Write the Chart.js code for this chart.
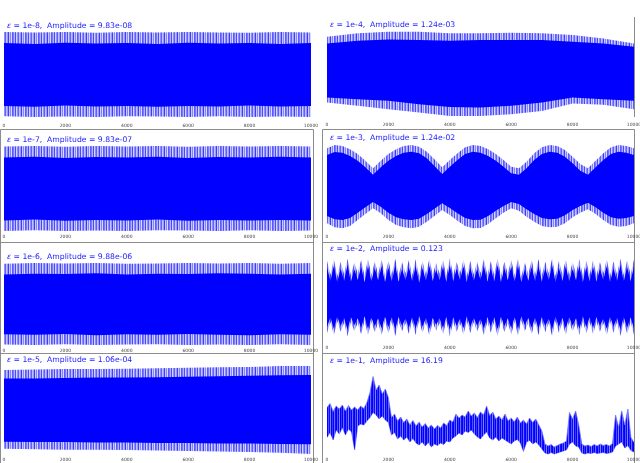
<!DOCTYPE html>
<html>
<head>
<meta charset="utf-8">
<script src="https://cdn.jsdelivr.net/npm/chart.js@4.4.1/dist/chart.umd.min.js"></script>
<style>
  body { margin: 0; width: 640px; height: 463px; overflow: hidden; position: relative; background: #fff; }
  .panel { position: absolute; }
</style>
</head>
<body>
<div class="panel" id="w0"><canvas id="c0"></canvas></div>
<div class="panel" id="w1"><canvas id="c1"></canvas></div>
<div class="panel" id="w2"><canvas id="c2"></canvas></div>
<div class="panel" id="w3"><canvas id="c3"></canvas></div>
<div class="panel" id="w4"><canvas id="c4"></canvas></div>
<div class="panel" id="w5"><canvas id="c5"></canvas></div>
<div class="panel" id="w6"><canvas id="c6"></canvas></div>
<div class="panel" id="w7"><canvas id="c7"></canvas></div>
<script>
// Labels of the eight runs
const epsilons = ['1e-8', '1e-7', '1e-6', '1e-5', '1e-4', '1e-3', '1e-2', '1e-1'];
const amplitudes = ['9.83e-08', '9.83e-07', '9.88e-06', '1.06e-04', '1.24e-03', '1.24e-02', '0.123', '16.19'];
const xTicks = [0, 2000, 4000, 6000, 8000, 10000];

// Envelopes of the oscillation (normalised), samples evenly spread over 0..10000
// eps = 1e-8
const e8OuterTop = [1.00, 0.99, 1.00, 0.98, 1.00, 0.99, 1.00, 0.99, 0.98, 1.00, 0.99];
const e8InnerTop = [0.74, 0.72, 0.75, 0.73, 0.74, 0.72, 0.75, 0.73, 0.74, 0.72, 0.74];
const e8InnerBot = [-0.74, -0.76, -0.73, -0.75, -0.74, -0.76, -0.74, -0.75, -0.73, -0.75, -0.74];
const e8OuterBot = [-0.98, -1.00, -0.99, -1.00, -0.98, -0.99, -1.00, -0.98, -1.00, -0.99, -1.00];
// eps = 1e-7
const e7OuterTop = [0.99, 1.00, 0.98, 1.00, 0.99, 1.00, 0.98, 1.00, 0.99, 1.00, 0.99];
const e7InnerTop = [0.73, 0.75, 0.72, 0.74, 0.73, 0.75, 0.72, 0.74, 0.73, 0.75, 0.73];
const e7InnerBot = [-0.75, -0.73, -0.76, -0.74, -0.75, -0.73, -0.76, -0.74, -0.75, -0.74, -0.75];
const e7OuterBot = [-1.00, -0.98, -1.00, -0.99, -1.00, -0.98, -0.99, -1.00, -0.98, -1.00, -0.99];
// eps = 1e-6
const e6OuterTop = [0.98, 1.00, 0.99, 1.00, 0.98, 0.99, 1.00, 0.99, 1.00, 0.98, 1.00];
const e6InnerTop = [0.72, 0.74, 0.73, 0.75, 0.72, 0.74, 0.73, 0.75, 0.74, 0.72, 0.74];
const e6InnerBot = [-0.74, -0.75, -0.73, -0.76, -0.74, -0.75, -0.73, -0.75, -0.76, -0.74, -0.75];
const e6OuterBot = [-0.99, -1.00, -0.98, -1.00, -0.99, -0.98, -1.00, -0.99, -1.00, -0.98, -1.00];
// eps = 1e-5
const e5OuterTop = [0.91, 0.92, 0.93, 0.93, 0.94, 0.95, 0.96, 0.97, 0.98, 1.00, 1.01];
const e5InnerTop = [0.72, 0.72, 0.73, 0.74, 0.74, 0.75, 0.76, 0.77, 0.78, 0.79, 0.80];
const e5InnerBot = [-0.70, -0.71, -0.71, -0.72, -0.72, -0.73, -0.73, -0.74, -0.74, -0.75, -0.76];
const e5OuterBot = [-0.86, -0.87, -0.88, -0.88, -0.89, -0.90, -0.91, -0.92, -0.93, -0.95, -0.98];
// eps = 1e-4 (units of 1e-3)
const e4OuterTop = [1.10, 1.20, 1.25, 1.25, 1.20, 1.20, 1.22, 1.20, 1.15, 1.05, 0.90];
const e4InnerTop = [0.90, 0.98, 1.02, 1.00, 0.98, 1.00, 1.00, 1.00, 0.95, 0.90, 0.80];
const e4InnerBot = [-0.70, -0.75, -0.80, -0.90, -0.98, -1.00, -0.95, -0.85, -0.70, -0.75, -0.80];
const e4OuterBot = [-0.85, -0.95, -1.05, -1.15, -1.25, -1.25, -1.20, -1.10, -0.88, -0.92, -1.05];
// eps = 1e-3 (units of 1e-2)
const e3OuterTop = [1.15, 1.25, 1.22, 1.12, 0.98, 0.78, 0.55, 0.78, 0.98, 1.12, 1.22, 1.25, 1.20, 1.05, 0.82, 0.58, 0.80, 1.00, 1.18, 1.25, 1.22, 1.12, 0.98, 0.80, 0.60, 0.55, 0.75, 1.00, 1.18, 1.25, 1.22, 1.10, 0.90, 0.68, 0.55, 0.78, 1.00, 1.18, 1.25, 1.22, 1.15];
const e3InnerTop = [0.95, 1.04, 1.02, 0.92, 0.78, 0.58, 0.36, 0.58, 0.78, 0.92, 1.02, 1.05, 1.00, 0.85, 0.62, 0.38, 0.60, 0.80, 0.98, 1.05, 1.02, 0.92, 0.78, 0.60, 0.40, 0.36, 0.55, 0.80, 0.98, 1.05, 1.02, 0.90, 0.70, 0.48, 0.36, 0.58, 0.80, 0.98, 1.05, 1.02, 0.95];
const e3InnerBot = [-0.88, -0.98, -1.00, -0.94, -0.78, -0.62, -0.46, -0.60, -0.78, -0.92, -0.98, -1.00, -0.96, -0.82, -0.66, -0.50, -0.64, -0.80, -0.94, -1.00, -0.99, -0.88, -0.72, -0.58, -0.46, -0.52, -0.68, -0.82, -0.94, -0.98, -0.96, -0.86, -0.70, -0.58, -0.48, -0.62, -0.78, -0.92, -0.96, -0.94, -0.88];
const e3OuterBot = [-1.10, -1.22, -1.25, -1.18, -1.00, -0.82, -0.65, -0.80, -1.00, -1.15, -1.22, -1.25, -1.20, -1.05, -0.88, -0.70, -0.85, -1.02, -1.18, -1.25, -1.24, -1.12, -0.95, -0.78, -0.65, -0.72, -0.90, -1.05, -1.18, -1.22, -1.20, -1.10, -0.92, -0.78, -0.68, -0.82, -1.00, -1.15, -1.20, -1.18, -1.10];
// eps = 1e-2 (units of 0.1)
const e2OuterTop = [1.08, 0.66, 1.12, 0.62, 1.05, 0.68, 1.14, 0.64, 1.02, 0.70,
  1.10, 0.63, 1.13, 0.66, 1.04, 0.69, 1.11, 0.62, 1.07, 0.67,
  1.14, 0.64, 1.03, 0.70, 1.09, 0.65, 1.12, 0.61, 1.06, 0.68,
  1.13, 0.66, 1.01, 0.69, 1.10, 0.63, 1.15, 0.65, 1.04, 0.70,
  1.11, 0.62, 1.08, 0.67, 1.03, 0.71, 1.12, 0.64, 1.06, 0.66,
  1.14, 0.63, 1.05, 0.69, 1.10, 0.65, 1.13, 0.62, 1.02, 0.68,
  1.09, 0.66, 1.12, 0.64, 1.05, 0.70, 1.14, 0.63, 1.07, 0.67,
  1.11, 0.65, 1.03, 0.69, 1.13, 0.62, 1.08, 0.66, 1.10, 0.64,
  1.04, 0.70, 1.12, 0.63, 1.06, 0.67, 1.14, 0.65, 1.09, 0.66, 1.12];
const e2InnerTop = [0.88, 0.46, 0.93, 0.44, 0.84, 0.48, 0.95, 0.45, 0.82, 0.50,
  0.90, 0.43, 0.92, 0.47, 0.85, 0.49, 0.91, 0.44, 0.87, 0.46,
  0.94, 0.45, 0.83, 0.50, 0.89, 0.46, 0.92, 0.42, 0.86, 0.48,
  0.93, 0.47, 0.81, 0.49, 0.90, 0.44, 0.95, 0.46, 0.84, 0.50,
  0.91, 0.43, 0.88, 0.47, 0.83, 0.51, 0.92, 0.45, 0.86, 0.46,
  0.94, 0.44, 0.85, 0.49, 0.90, 0.46, 0.93, 0.43, 0.82, 0.48,
  0.89, 0.47, 0.92, 0.45, 0.85, 0.50, 0.94, 0.44, 0.87, 0.47,
  0.91, 0.46, 0.83, 0.49, 0.93, 0.43, 0.88, 0.46, 0.90, 0.45,
  0.84, 0.50, 0.92, 0.44, 0.86, 0.47, 0.94, 0.46, 0.89, 0.46, 0.92];
const e2InnerBot = [-0.92, -0.62, -0.97, -0.60, -0.88, -0.64, -0.99, -0.61, -0.86, -0.65,
  -0.94, -0.59, -0.96, -0.63, -0.89, -0.65, -0.95, -0.60, -0.91, -0.62,
  -0.98, -0.61, -0.87, -0.66, -0.93, -0.62, -0.96, -0.58, -0.90, -0.64,
  -0.97, -0.63, -0.85, -0.65, -0.94, -0.60, -1.00, -0.62, -0.88, -0.66,
  -0.95, -0.59, -0.92, -0.63, -0.87, -0.67, -0.96, -0.61, -0.90, -0.62,
  -0.98, -0.60, -0.89, -0.65, -0.94, -0.62, -0.97, -0.59, -0.86, -0.64,
  -0.93, -0.63, -0.96, -0.61, -0.89, -0.66, -0.98, -0.60, -0.91, -0.63,
  -0.95, -0.62, -0.87, -0.65, -0.97, -0.59, -0.92, -0.62, -0.94, -0.61,
  -0.88, -0.66, -0.96, -0.60, -0.90, -0.63, -0.98, -0.62, -0.93, -0.62, -0.96];
const e2OuterBot = [-1.10, -0.76, -1.16, -0.74, -1.05, -0.78, -1.19, -0.75, -1.03, -0.79,
  -1.13, -0.73, -1.15, -0.77, -1.06, -0.79, -1.14, -0.74, -1.09, -0.76,
  -1.18, -0.75, -1.04, -0.80, -1.11, -0.76, -1.15, -0.72, -1.08, -0.78,
  -1.16, -0.77, -1.02, -0.79, -1.13, -0.74, -1.20, -0.76, -1.05, -0.80,
  -1.14, -0.73, -1.10, -0.77, -1.04, -0.81, -1.15, -0.75, -1.08, -0.76,
  -1.18, -0.74, -1.06, -0.79, -1.13, -0.76, -1.16, -0.73, -1.03, -0.78,
  -1.11, -0.77, -1.15, -0.75, -1.06, -0.80, -1.18, -0.74, -1.09, -0.77,
  -1.14, -0.76, -1.04, -0.79, -1.16, -0.73, -1.10, -0.76, -1.13, -0.75,
  -1.05, -0.80, -1.15, -0.74, -1.08, -0.77, -1.18, -0.76, -1.11, -0.76, -1.15];
// eps = 1e-1: the trace wanders, upper/lower edge of the trace (101 samples)
const e1Upper = [9.5, 10.3, 8.7, 9.8, 9.2, 10.0, 8.8, 9.9, 9.0, 9.6,
  9.0, 9.8, 9.3, 10.5, 12.5, 15.7, 13.0, 14.0, 12.2, 13.2,
  11.5, 7.5, 8.2, 6.8, 7.6, 6.5, 7.2, 6.0, 6.9, 5.8,
  6.6, 5.6, 6.3, 5.4, 6.0, 5.2, 5.9, 5.4, 6.4, 5.9,
  7.0, 6.6, 8.2, 7.4, 8.0, 7.6, 8.8, 7.8, 8.4, 7.5,
  8.6, 8.0, 9.8, 7.9, 8.6, 7.2, 7.8, 7.0, 8.2, 6.8,
  7.4, 6.6, 7.6, 6.4, 7.0, 6.2, 7.4, 6.5, 7.2, 6.0,
  4.8, 2.2, 1.8, 2.1, 1.6, 1.9, 2.2, 2.4, 2.8, 8.5,
  7.2, 8.8, 6.0, 2.2, 1.8, 2.0, 1.7, 2.1, 1.8, 2.2,
  1.9, 2.1, 1.8, 2.3, 8.0, 5.5, 8.8, 6.0, 9.2, 3.5, 2.5];
const e1Lower = [3.5, 4.5, 3.0, 5.0, 4.2, 5.5, 4.0, 5.2, 4.6, 1.0,
  5.8, 6.2, 6.0, 6.8, 7.5, 8.5, 8.0, 7.2, 7.8, 7.0,
  6.5, 4.0, 4.5, 3.2, 3.8, 3.0, 3.6, 2.6, 3.3, 2.4,
  2.0, 2.6, 1.8, 2.5, 1.6, 2.2, 1.9, 2.4, 2.1, 2.8,
  2.6, 3.4, 3.8, 4.4, 4.0, 4.8, 4.5, 5.0, 4.2, 3.6,
  3.2, 4.0, 4.6, 3.4, 3.0, 3.6, 2.8, 3.4, 3.0, 2.6,
  2.2, 2.8, 3.1, 2.4, 0.7, 2.6, 2.9, 2.2, 2.6, 2.0,
  1.2, 0.4, 0.2, 0.5, 0.2, 0.4, 0.6, 0.8, 1.0, 2.2,
  2.6, 1.8, 1.6, 0.4, 0.2, 0.4, 0.3, 0.5, 0.3, 0.4,
  0.5, 0.3, 0.4, 0.6, 1.8, 2.2, 2.6, 1.4, 1.9, 0.9, 0.6];

// Where each panel sits on the page
const panels = [
  { left: 0,   top: 18,  width: 318, height: 117, padTop: 14, tickPad: 6.3, frame: 'none',  yMin: -1.0,  yMax: 1.0 },
  { left: 0,   top: 129, width: 318, height: 114, padTop: 17, tickPad: 3.3, frame: 'box',   yMin: -1.0,  yMax: 1.0 },
  { left: 0,   top: 242, width: 318, height: 115, padTop: 21, tickPad: 3.3, frame: 'box',   yMin: -1.0,  yMax: 1.0 },
  { left: 0,   top: 353, width: 318, height: 112, padTop: 13, tickPad: 2.3, frame: 'box',   yMin: -1.0,  yMax: 1.0 },
  { left: 322, top: 17,  width: 318, height: 116, padTop: 14, tickPad: 5.3, frame: 'right', yMin: -1.28, yMax: 1.27 },
  { left: 322, top: 129, width: 318, height: 114, padTop: 15, tickPad: 3.3, frame: 'box',   yMin: -1.33, yMax: 1.28 },
  { left: 322, top: 242, width: 318, height: 115, padTop: 13, tickPad: 6.3, frame: 'box',   yMin: -1.27, yMax: 1.25 },
  { left: 322, top: 353, width: 318, height: 112, padTop: 14, tickPad: 2.3, frame: 'box',   yMin: 0,     yMax: 17.6 }
];

const DARK = 'rgb(0, 0, 255)';

// vertical strands texture for the densely oscillating traces
function strands(shades) {
  const c = document.createElement('canvas');
  c.width = shades.length;
  c.height = 4;
  const g = c.getContext('2d');
  shades.forEach((s, i) => { g.fillStyle = s; g.fillRect(i, 0, 1, 4); });
  return g.createPattern(c, 'repeat');
}
const LIGHT = strands(['#7a7aff', '#b4b4ff', '#4a4aff', '#d2d2ff', '#8e8eff', '#6060ff', '#c0c0ff',
  '#9a9aff', '#3c3cff', '#c8c8ff', '#8484ff', '#dadaff', '#5a5aff']);
const TRACE = strands(['#0000ff', '#3a3aff', '#0000ff', '#6a6aff', '#1010ff', '#0000ff', '#5050ff', '#0a0aff', '#8080ff']);

function toPoints(arr) {
  const step = 10000 / (arr.length - 1);
  return arr.map((v, i) => ({ x: i * step, y: v }));
}

// dark core first so it is drawn on top of the light fringe
function bandDatasets(innerTop, innerBot, outerTop, outerBot) {
  const base = { pointRadius: 0, borderWidth: 0, tension: 0 };
  return [
    Object.assign({ data: toPoints(innerTop), fill: '+1', backgroundColor: DARK }, base),
    Object.assign({ data: toPoints(innerBot), fill: false }, base),
    Object.assign({ data: toPoints(outerTop), fill: '+1', backgroundColor: LIGHT }, base),
    Object.assign({ data: toPoints(outerBot), fill: false }, base)
  ];
}

const panelData = [
  bandDatasets(e8InnerTop, e8InnerBot, e8OuterTop, e8OuterBot),
  bandDatasets(e7InnerTop, e7InnerBot, e7OuterTop, e7OuterBot),
  bandDatasets(e6InnerTop, e6InnerBot, e6OuterTop, e6OuterBot),
  bandDatasets(e5InnerTop, e5InnerBot, e5OuterTop, e5OuterBot),
  bandDatasets(e4InnerTop, e4InnerBot, e4OuterTop, e4OuterBot),
  bandDatasets(e3InnerTop, e3InnerBot, e3OuterTop, e3OuterBot),
  bandDatasets(e2InnerTop, e2InnerBot, e2OuterTop, e2OuterBot),
  [
    { data: toPoints(e1Upper), fill: '+1', backgroundColor: TRACE, borderColor: 'rgba(110, 110, 255, 0.9)', borderWidth: 0.8, pointRadius: 0, tension: 0 },
    { data: toPoints(e1Lower), fill: false, borderColor: 'rgba(110, 110, 255, 0.9)', borderWidth: 0.8, pointRadius: 0, tension: 0 }
  ]
];

// Frame round the panel and the blue title inside it
const panelDeco = {
  id: 'panelDeco',
  beforeDraw(chart, args, opts) {
    const ctx = chart.ctx;
    const h = chart.height;
    const right = opts.col === 0 ? 313.5 : 312.5;
    ctx.save();
    ctx.strokeStyle = '#8c8c8c';
    ctx.lineWidth = 1;
    ctx.beginPath();
    if (opts.frame === 'box') {
      ctx.moveTo(0.5, h);
      ctx.lineTo(0.5, 0.5);
      ctx.lineTo(right, 0.5);
      ctx.lineTo(right, h);
    } else if (opts.frame === 'right') {
      ctx.moveTo(right, 0);
      ctx.lineTo(right, chart.chartArea.bottom);
    }
    ctx.stroke();
    ctx.restore();
  },
  afterDraw(chart, args, opts) {
    const ctx = chart.ctx;
    const a = chart.chartArea;
    let x = a.left + 3;
    const y = a.top - 6;
    ctx.save();
    ctx.fillStyle = '#2323ff';
    ctx.textBaseline = 'middle';
    ctx.font = 'italic 7.7px "DejaVu Sans"';
    ctx.fillText('\u03b5', x, y);
    x += ctx.measureText('\u03b5').width;
    ctx.font = '7.7px "DejaVu Sans"';
    ctx.fillText(' = ' + opts.eps + ',  Amplitude = ' + opts.amp, x, y);
    ctx.restore();
  }
};

Chart.defaults.font.family = '"DejaVu Sans"';

panels.forEach((p, i) => {
  const wrap = document.getElementById('w' + i);
  wrap.style.left = p.left + 'px';
  wrap.style.top = p.top + 'px';
  const canvas = document.getElementById('c' + i);
  canvas.width = p.width;
  canvas.height = p.height;
  const col = i < 4 ? 0 : 1;

  new Chart(canvas.getContext('2d'), {
    type: 'line',
    data: { datasets: panelData[i] },
    plugins: [panelDeco],
    options: {
      responsive: false,
      animation: false,
      events: [],
      layout: { padding: { top: p.padTop, left: col === 0 ? 4 : 5, right: col === 0 ? 7 : 6, bottom: 0 } },
      plugins: {
        legend: { display: false },
        tooltip: { enabled: false },
        panelDeco: { eps: epsilons[i], amp: amplitudes[i], frame: p.frame, col: col }
      },
      scales: {
        x: {
          type: 'linear',
          min: 0,
          max: 10000,
          grid: { display: false, drawTicks: false },
          border: { display: false },
          afterBuildTicks: (scale) => { scale.ticks = xTicks.map(v => ({ value: v })); },
          afterFit: (scale) => { scale.paddingLeft = 0; scale.paddingRight = 0; },
          ticks: {
            padding: p.tickPad,
            autoSkip: false,
            maxRotation: 0,
            color: '#444',
            font: { size: 4.5 },
            callback: (v) => String(v)
          }
        },
        y: { display: false, min: p.yMin, max: p.yMax }
      }
    }
  });
});
</script>
</body>
</html>
